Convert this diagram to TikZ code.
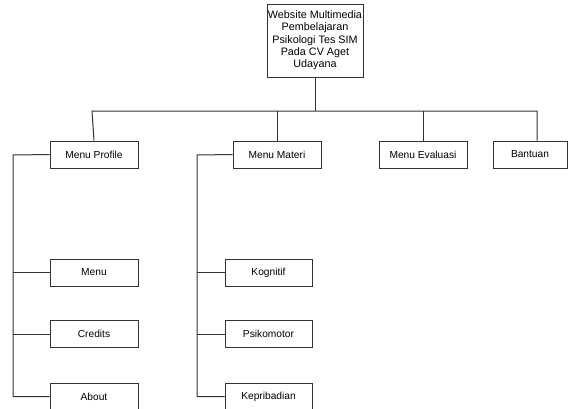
\documentclass[tikz,border=0pt]{standalone}
\usepackage{fontspec}
\setmainfont{Liberation Sans}
\begin{document}
\begin{tikzpicture}[x=1pt,y=-1pt,
  box/.style={draw=black!80, line width=1pt, minimum width=88pt, minimum height=27pt, inner sep=1pt, align=center, font=\fontsize{10.2}{12}\selectfont},
  conn/.style={draw=black!80, line width=1pt}]
\useasboundingbox (0,0) rectangle (568,408);
\clip (0,0) rectangle (568,408);
\node[box, minimum width=96pt, minimum height=73pt, inner sep=0pt, font=\fontsize{10.8}{12.3}\selectfont] (top) at (315,40.5) {Website Multimedia\\Pembelajaran\\Psikologi Tes SIM\\Pada CV Aget\\Udayana};
\node[box] (mp) at (94,154.5) {Menu Profile};
\node[box] (mm) at (277,154.5) {Menu Materi};
\node[box] (me) at (423,154.5) {Menu Evaluasi};
\node[box, minimum width=74pt] (bt) at (530,154.5) {Bantuan};
\node[box] (menu) at (94,272.5) {Menu};
\node[box] (cred) at (94,334) {Credits};
\node[box] (about) at (94,396.5) {About};
\node[box, minimum width=87pt] (kog) at (268.5,272.5) {Kognitif};
\node[box, minimum width=87pt] (psi) at (268.5,334) {Psikomotor};
\node[box, minimum width=87pt] (kep) at (268.5,396.5) {Kepribadian};
\coordinate (bus) at (315,111);
\coordinate (busL) at (92,111);
\coordinate (busR) at (537,111);
\coordinate (sp1) at (13,155);
\coordinate (sp2) at (197,155);
\draw[conn] (top.south) -- (bus);
\draw[conn] (mp.north) -- (busL) -- (busR) -- (busR |- bt.north);
\draw[conn] (mm.north) -- (mm.north |- bus);
\draw[conn] (me.north) -- (me.north |- bus);
\draw[conn] (mp.west) -- (sp1) |- (about.west);
\draw[conn] (menu.west) -- (menu.west -| sp1);
\draw[conn] (cred.west) -- (cred.west -| sp1);
\draw[conn] (mm.west) -- (sp2) |- (kep.west);
\draw[conn] (kog.west) -- (kog.west -| sp2);
\draw[conn] (psi.west) -- (psi.west -| sp2);
\end{tikzpicture}
\end{document}
